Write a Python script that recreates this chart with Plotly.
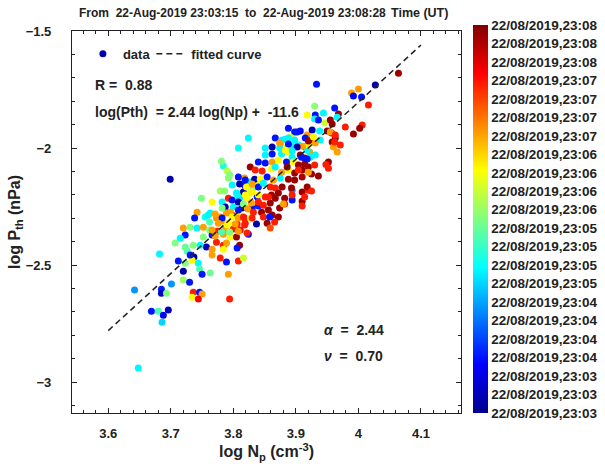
import numpy as np
import plotly.graph_objects as go

# log Np (cm^-3), log Pth (nPa), time in seconds after 23:03:15 UT
log_np = [
    3.699, 3.682, 3.726, 3.712, 3.734, 3.737, 3.734, 3.723, 3.744, 3.720, 3.746,
    3.750, 3.720, 3.730, 3.701, 3.642, 3.685, 3.685, 3.693, 3.736, 3.746,
    3.750, 3.734, 3.744, 3.669, 3.680, 3.696, 3.688, 3.686, 3.648, 3.763,
    3.784, 3.790, 3.792, 3.827, 3.818, 3.810, 3.819, 3.827, 3.837,
    3.832, 3.779, 3.786, 3.816, 3.805, 3.827, 3.749, 3.792, 3.782, 3.810,
    3.822, 3.838, 3.800, 3.787, 3.814, 3.822, 3.830, 3.840, 3.742, 3.763,
    3.789, 3.798, 3.808, 3.755, 3.779, 3.818, 3.827, 3.773, 3.738, 3.762,
    3.782, 3.792, 3.806, 3.819, 3.837, 3.720, 3.731, 3.742, 3.752, 3.762,
    3.774, 3.787, 3.800, 3.811, 3.824, 3.723, 3.715, 3.752, 3.766, 3.784,
    3.795, 3.805, 3.773, 3.784, 3.789, 3.810, 3.707, 3.736, 3.723, 3.747,
    3.757, 3.766, 3.784, 3.806, 3.731, 3.766, 3.779, 3.789, 3.808, 3.816,
    3.792, 3.794, 3.824, 3.808, 3.888, 3.898, 3.907, 3.918, 3.891, 3.915,
    3.926, 3.867, 3.883, 3.851, 3.862, 3.875, 3.874, 3.886, 3.893, 3.904,
    3.915, 3.922, 3.851, 3.862, 3.877, 3.888, 3.894, 3.907, 3.914, 3.923,
    3.840, 3.851, 3.862, 3.872, 3.885, 3.896, 3.904, 3.914, 3.835, 3.846,
    3.861, 3.867, 3.877, 3.888, 3.898, 3.910, 3.925, 3.910, 3.794, 3.808,
    3.819, 3.834, 3.843, 3.854, 3.864, 3.875, 3.888, 3.898, 3.798, 3.821,
    3.830, 3.840, 3.848, 3.859, 3.867, 3.878, 3.894, 3.910, 3.920, 3.806,
    3.819, 3.830, 3.840, 3.851, 3.861, 3.867, 3.882, 3.894, 3.910, 3.766,
    3.798, 3.808, 3.816, 3.829, 3.840, 3.848, 3.859, 3.882, 3.782, 3.795,
    3.808, 3.823, 3.832, 3.845, 3.856, 3.760, 3.771, 3.782, 3.798, 3.808,
    3.816, 3.830, 3.848, 3.862, 3.872, 3.776, 3.790, 3.803, 3.818, 3.854,
    3.866, 3.766, 3.781, 3.794, 3.808, 3.822, 3.771, 3.933, 3.930, 3.989,
    4.005, 3.992, 3.962, 3.968, 3.966, 3.931, 3.930, 3.946, 3.955, 3.958,
    3.979, 3.992, 4.006, 3.926, 3.938, 3.950, 3.957, 3.963, 3.971, 3.958,
    3.960, 3.966, 3.952, 3.948, 3.918, 3.931, 3.939, 3.931, 3.920, 3.910,
    3.920, 3.928, 3.888, 3.898, 3.878, 3.874, 3.888, 3.902, 3.894, 3.883,
    3.909, 3.918, 3.920, 3.930, 3.920, 3.936, 3.952, 3.918, 3.893, 3.925,
    3.894, 3.914, 3.886, 3.904, 3.872, 3.856, 4.064, 4.027, 4.000, 4.016,
    4.002, 3.955, 3.962, 3.963, 3.910, 3.874, 3.858, 3.859, 3.880, 3.918,
    3.944, 3.936, 3.902, 3.781,
]
log_pth = [
    -2.133, -2.453, -2.440, -2.483, -2.466, -2.466, -2.479, -2.492, -2.492, -2.526, -2.517,
    -2.539, -2.564, -2.573, -2.581, -2.607, -2.603, -2.620, -2.620, -2.616, -2.616,
    -2.624, -2.637, -2.645, -2.697, -2.697, -2.692, -2.714, -2.744, -2.940, -2.534,
    -2.077, -2.098, -2.128, -2.081, -2.128, -2.154, -2.162, -2.145, -2.141,
    -2.171, -2.184, -2.184, -2.188, -2.192, -2.192, -2.214, -2.214, -2.231, -2.214,
    -2.214, -2.209, -2.252, -2.252, -2.256, -2.252, -2.256, -2.248, -2.274, -2.278,
    -2.278, -2.286, -2.278, -2.295, -2.295, -2.299, -2.299, -2.299, -2.299, -2.316,
    -2.312, -2.321, -2.325, -2.321, -2.325, -2.342, -2.338, -2.342, -2.338, -2.350,
    -2.355, -2.346, -2.346, -2.350, -2.368, -2.372, -2.385, -2.380, -2.372, -2.368,
    -2.380, -2.380, -2.402, -2.415, -2.406, -2.415, -2.406, -2.415, -2.423, -2.415,
    -2.423, -2.432, -2.432, -2.427, -2.457, -2.457, -2.470, -2.487, -2.483, -2.470,
    -2.539, -2.645, -1.957, -2.000, -1.915, -1.932, -1.927, -1.944, -1.953, -1.957,
    -1.966, -1.957, -1.962, -2.000, -1.996, -1.983, -2.000, -1.996, -1.992, -1.987,
    -1.996, -2.017, -2.030, -2.026, -2.026, -2.017, -2.039, -2.030, -2.043, -2.039,
    -2.060, -2.064, -2.060, -2.051, -2.060, -2.060, -2.073, -2.068, -2.094, -2.098,
    -2.090, -2.081, -2.103, -2.094, -2.107, -2.094, -2.111, -2.124, -2.115, -2.124,
    -2.137, -2.133, -2.133, -2.124, -2.137, -2.128, -2.133, -2.137, -2.158, -2.167,
    -2.154, -2.167, -2.150, -2.167, -2.171, -2.167, -2.180, -2.188, -2.180, -2.197,
    -2.201, -2.188, -2.201, -2.209, -2.201, -2.214, -2.214, -2.222, -2.227, -2.231,
    -2.222, -2.231, -2.239, -2.235, -2.231, -2.244, -2.235, -2.239, -2.256, -2.274,
    -2.265, -2.260, -2.274, -2.274, -2.265, -2.286, -2.282, -2.299, -2.295, -2.299,
    -2.295, -2.299, -2.295, -2.286, -2.295, -2.321, -2.329, -2.325, -2.329, -2.321,
    -2.316, -2.350, -2.359, -2.359, -2.355, -2.363, -2.376, -1.727, -1.821, -1.765,
    -1.782, -1.778, -1.829, -1.855, -1.868, -1.859, -1.876, -1.893, -1.880, -1.897,
    -1.910, -1.940, -1.902, -1.923, -1.927, -1.927, -1.936, -1.957, -1.987, -1.974,
    -1.996, -2.017, -2.060, -2.070, -2.009, -2.030, -1.966, -1.979, -1.987, -1.992,
    -1.970, -1.953, -1.957, -1.966, -1.966, -1.979, -1.983, -1.996, -2.013, -2.009,
    -2.039, -2.047, -2.081, -2.073, -2.103, -2.120, -2.086, -2.167, -2.171, -2.184,
    -2.201, -2.209, -2.081, -2.094, -2.192, -2.209, -1.680, -1.731, -1.748, -1.816,
    -1.915, -1.932, -1.974, -1.944, -2.248, -2.256, -2.295, -2.342, -2.239, -1.859,
    -1.850, -1.880, -1.932, -2.056,
]
t_sec = [
    10, 115, 140, 45, 45, 10, 197, 157, 115, 10, 140,
    45, 165, 45, 85, 85, 50, 20, 157, 265, 45,
    225, 197, 275, 45, 140, 15, 35, 105, 115, 150,
    125, 175, 160, 305, 225, 10, 45, 115, 197,
    157, 165, 160, 10, 115, 180, 155, 265, 115, 110,
    197, 45, 115, 10, 15, 197, 45, 50, 225, 115,
    225, 265, 197, 120, 225, 265, 197, 230, 45, 140,
    225, 197, 265, 265, 10, 225, 157, 115, 225, 157,
    265, 225, 265, 270, 45, 45, 115, 157, 45, 225,
    197, 305, 265, 265, 225, 305, 157, 157, 150, 115,
    15, 225, 197, 45, 45, 225, 265, 45, 265, 180,
    225, 265, 115, 120, 45, 45, 40, 225, 180, 45,
    305, 45, 115, 115, 10, 225, 115, 197, 115, 120,
    305, 225, 115, 45, 115, 197, 115, 305, 300, 115,
    45, 45, 225, 197, 45, 197, 305, 305, 265, 265,
    197, 115, 225, 197, 305, 305, 305, 300, 157, 45,
    45, 10, 197, 45, 225, 115, 305, 305, 115, 197,
    225, 45, 115, 265, 265, 305, 85, 305, 265, 115,
    197, 200, 197, 265, 305, 305, 305, 45, 305, 197,
    45, 10, 157, 225, 265, 265, 305, 265, 157, 225,
    45, 225, 265, 305, 305, 115, 225, 45, 197, 225,
    265, 265, 265, 305, 305, 225, 197, 225, 265, 305,
    265, 225, 140, 157, 225, 265, 225, 45, 160, 225,
    45, 40, 45, 305, 115, 45, 115, 180, 305, 305,
    265, 305, 265, 10, 115, 305, 305, 305, 265, 305,
    225, 225, 305, 265, 115, 115, 115, 225, 197, 225,
    305, 197, 115, 115, 115, 225, 45, 10, 115, 197,
    45, 45, 305, 265, 225, 305, 265, 305, 305, 265,
    265, 265, 305, 265, 305, 265, 305, 10, 225, 265,
    305, 225, 265, 265, 265, 305, 45, 250, 225, 197,
    115, 45, 45, 157,
]

# fitted curve end points
fit_x = [3.6, 4.1]
fit_y = [-2.78, -1.56]

T_END = 313
cbar_labels = (["22/08/2019,23:03"] * 3 + ["22/08/2019,23:04"] * 4 +
               ["22/08/2019,23:05"] * 4 + ["22/08/2019,23:06"] * 4 +
               ["22/08/2019,23:07"] * 4 + ["22/08/2019,23:08"] * 3)

jet = [[0, "rgb(0,0,143)"], [0.125, "rgb(0,0,255)"], [0.375, "rgb(0,255,255)"],
       [0.625, "rgb(255,255,0)"], [0.875, "rgb(255,0,0)"], [1, "rgb(128,0,0)"]]

FONT = "Liberation Sans, Arial, sans-serif"
TXT = "#222222"

fig = go.Figure()
fig.add_trace(go.Scatter(
    x=log_np, y=log_pth, mode="markers", name="data", legend="legend",
    marker=dict(size=7, color=t_sec, colorscale=jet, cmin=0, cmax=T_END,
                line=dict(width=0),
                colorbar=dict(
                    x=1.031, xanchor="left", y=0, yanchor="bottom",
                    lenmode="pixels", len=388, thickness=15, xpad=0, ypad=0,
                    outlinewidth=0, ticks="", ticklabelposition="outside",
                    tickvals=list(np.linspace(0, T_END, len(cbar_labels))),
                    ticktext=cbar_labels,
                    tickfont=dict(family=FONT, size=13.5, color=TXT, weight="bold"),
                )),
))
fig.add_trace(go.Scatter(
    x=fit_x, y=fit_y, mode="lines", name="fitted curve", legend="legend2",
    line=dict(color="#222222", width=1.5, dash="6px,4px"),
))

axis_common = dict(
    showline=True, linecolor="#222222", linewidth=1.2, mirror="allticks",
    ticks="inside", ticklen=5, tickcolor="#222222", showgrid=False, zeroline=False,
    tickfont=dict(family=FONT, size=13, color=TXT, weight="bold"),
)
fig.update_xaxes(range=[3.542, 4.164], dtick=0.1, tick0=3.6,
                 minor=dict(dtick=0.02, tick0=3.6, ticks="inside", ticklen=3, tickcolor="#222222"),
                 title=dict(text="log N<sub>p</sub> (cm<sup>-3</sup>)", standoff=6,
                            font=dict(family=FONT, size=16, color=TXT, weight="bold")),
                 ticklabelstandoff=8, **axis_common)
fig.update_yaxes(range=[-3.132, -1.5], dtick=0.5, tick0=-3,
                 minor=dict(dtick=0.1, tick0=-3, ticks="inside", ticklen=3, tickcolor="#222222"),
                 title=dict(text="log P<sub>th</sub> (nPa)", standoff=1,
                            font=dict(family=FONT, size=16, color=TXT, weight="bold")),
                 ticklabelstandoff=17, **axis_common)

ann_font = dict(family=FONT, size=14, color=TXT, weight="bold")
fig.add_annotation(text="From  22-Aug-2019 23:03:15  to  22-Aug-2019 23:08:28",
                   xref="paper", yref="paper", x=0.013, y=1.047, xanchor="left",
                   yanchor="middle", showarrow=False,
                   font=dict(family=FONT, size=12, color=TXT, weight="bold"))
fig.add_annotation(text="Time (UT)", xref="paper", yref="paper", x=0.815, y=1.047,
                   xanchor="left", yanchor="middle", showarrow=False,
                   font=dict(family=FONT, size=12.5, color=TXT, weight="bold"))
fig.add_annotation(text="R =  0.88", xref="paper", yref="paper", x=0.055, y=0.858,
                   xanchor="left", yanchor="middle", showarrow=False, font=ann_font)
fig.add_annotation(text="log(Pth)  = 2.44 log(Np) +  -11.6", xref="paper", yref="paper",
                   x=0.055, y=0.787, xanchor="left", yanchor="middle",
                   showarrow=False, font=ann_font)
fig.add_annotation(text="<i>α</i>  =  2.44", xref="paper", yref="paper", x=0.643, y=0.217,
                   xanchor="left", yanchor="middle", showarrow=False, font=ann_font)
fig.add_annotation(text="<i>ν</i>  =  0.70", xref="paper", yref="paper", x=0.643, y=0.149,
                   xanchor="left", yanchor="middle", showarrow=False, font=ann_font)

legend_common = dict(orientation="h", y=0.94, xanchor="left", yanchor="middle",
                     bgcolor="rgba(0,0,0,0)", borderwidth=0, itemclick=False,
                     font=dict(family=FONT, size=13, color=TXT, weight="bold"))
fig.update_layout(
    width=605, height=472,
    margin=dict(l=72, r=144, t=31, b=59, autoexpand=False),
    paper_bgcolor="white", plot_bgcolor="white",
    font=dict(family=FONT, color=TXT),
    showlegend=True,
    legend=dict(x=0.028, **legend_common),
    legend2=dict(x=0.204, **legend_common),
)

# drop the browser's default 8px body margin so the figure sits at the page corner
fig.write_html("out.html", config={"displayModeBar": False},
               post_script="document.body.style.margin='0px';")
